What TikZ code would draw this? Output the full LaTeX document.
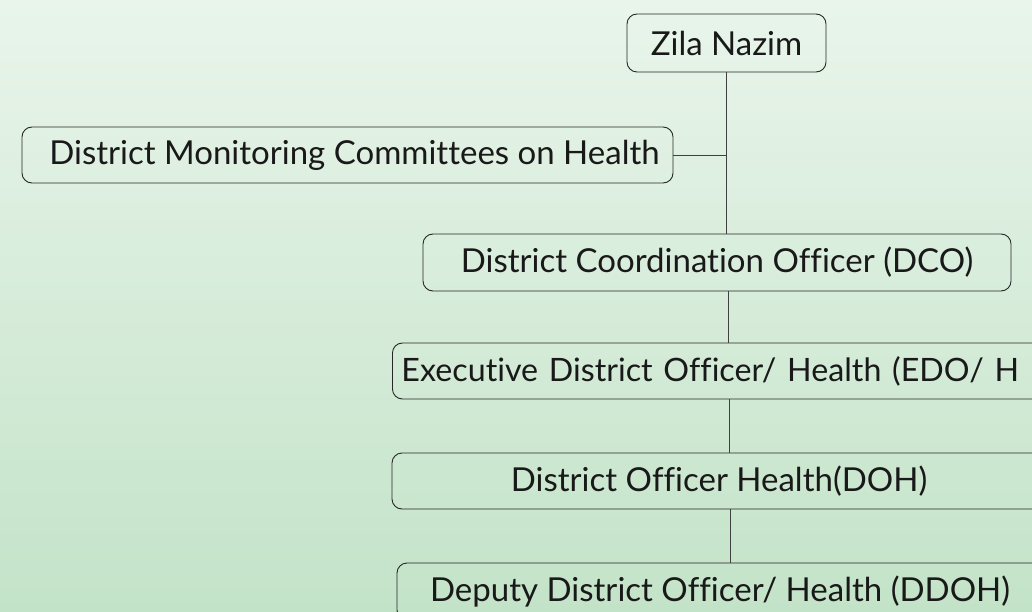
\documentclass[tikz,border=0pt]{standalone}
\usepackage{fontspec}
\setmainfont{Lato}[Ligatures=NoCommon]
\begin{document}
\begin{tikzpicture}[x=1pt,y=-1pt,
  orgbox/.style={draw=black!85, line width=0.9pt, rounded corners=10pt, inner sep=0pt,
     font=\fontsize{33}{38}\selectfont, text=black!90},
  link/.style={draw=black!75, line width=0.9pt}]
\useasboundingbox (0,0) rectangle (1032,612);
\clip (0,0) rectangle (1032,612);
\shade[top color={rgb,255:red,233;green,245;blue,235}, bottom color={rgb,255:red,195;green,227;blue,200}] (0,0) rectangle (1032,612);

\node[orgbox, minimum width=199pt, minimum height=58pt] (zila) at (726.5,43) {Zila Nazim};
\node[orgbox, minimum width=651pt, minimum height=56pt] (dmch) at (347.5,155) {\hspace*{14pt}District Monitoring Committees on Health};
\node[orgbox, minimum width=588pt, minimum height=57pt] (dco) at (717,262.5) {District Coordination Officer (DCO)};
\node[orgbox, font=\fontsize{32.2}{38}\selectfont, minimum height=56pt, anchor=west, text width=700pt, inner xsep=9pt, align=left] (edo) at (392,371) {Executive District Officer/ Health (EDO/ H};
\node[orgbox, minimum width=654pt, minimum height=56pt] (doh) at (719,481) {District Officer Health(DOH)};
\node[orgbox, minimum width=646pt, minimum height=57pt] (ddoh) at (720,591.5) {Deputy District Officer/ Health (DDOH)};

\coordinate (spine) at (zila.south |- dmch.east);
\draw[link] (zila.south) -- (zila.south |- dco.north);
\draw[link] (dmch.east) -- (spine);
\draw[link] ([xshift=1.5pt]zila.south |- dco.south) -- ([xshift=1.5pt]zila.south |- edo.north);
\draw[link] ([xshift=2.5pt]zila.south |- edo.south) -- ([xshift=2.5pt]zila.south |- doh.north);
\draw[link] ([xshift=3.5pt]zila.south |- doh.south) -- ([xshift=3.5pt]zila.south |- ddoh.north);
\end{tikzpicture}
\end{document}
